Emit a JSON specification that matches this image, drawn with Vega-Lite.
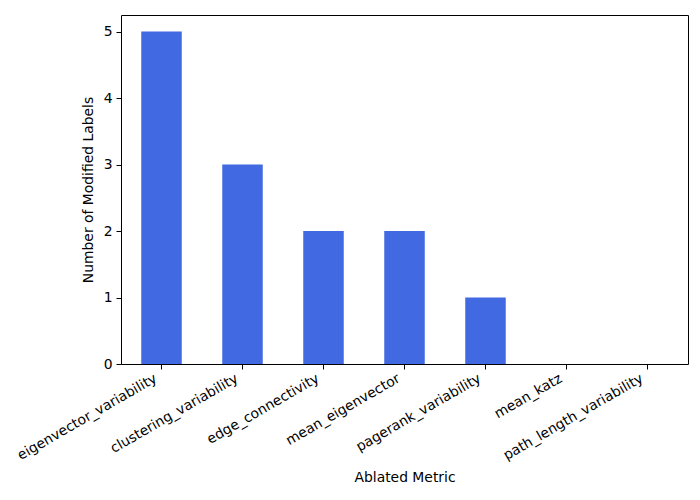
{
  "$schema": "https://vega.github.io/schema/vega-lite/v6.json",
  "autosize": {"type": "none"},
  "padding": {"left": 121, "top": 15, "right": 12, "bottom": 136},
  "width": 567,
  "height": 349,
  "background": "white",
  "config": {
    "font": "DejaVu Sans",
    "view": {"stroke": "black", "strokeWidth": 1},
    "axis": {
      "grid": false,
      "domain": false,
      "tickColor": "black",
      "tickSize": 5,
      "tickWidth": 1,
      "labelColor": "black",
      "labelFontSize": 13.9,
      "labelPadding": 4,
      "titleFontSize": 13.9,
      "titleFontWeight": "normal",
      "titleColor": "black"
    }
  },
  "data": {
    "values": [
      {"metric": "eigenvector_variability", "count": 5},
      {"metric": "clustering_variability", "count": 3},
      {"metric": "edge_connectivity", "count": 2},
      {"metric": "mean_eigenvector", "count": 2},
      {"metric": "pagerank_variability", "count": 1},
      {"metric": "mean_katz", "count": 0},
      {"metric": "path_length_variability", "count": 0}
    ]
  },
  "mark": {"type": "bar", "color": "#4169E1"},
  "encoding": {
    "x": {
      "field": "metric",
      "type": "nominal",
      "sort": null,
      "scale": {"paddingInner": 0.5, "paddingOuter": 0.25},
      "axis": {
        "title": "Ablated Metric",
        "labelAngle": -30,
        "labelAlign": "right",
        "labelBaseline": "top",
        "labelOffset": -9,
        "labelPadding": 2,
        "titlePadding": 8
      }
    },
    "y": {
      "field": "count",
      "type": "quantitative",
      "scale": {"domain": [0, 5.25], "nice": false},
      "axis": {
        "title": "Number of Modified Labels",
        "values": [0, 1, 2, 3, 4, 5],
        "titlePadding": 8
      }
    }
  }
}
